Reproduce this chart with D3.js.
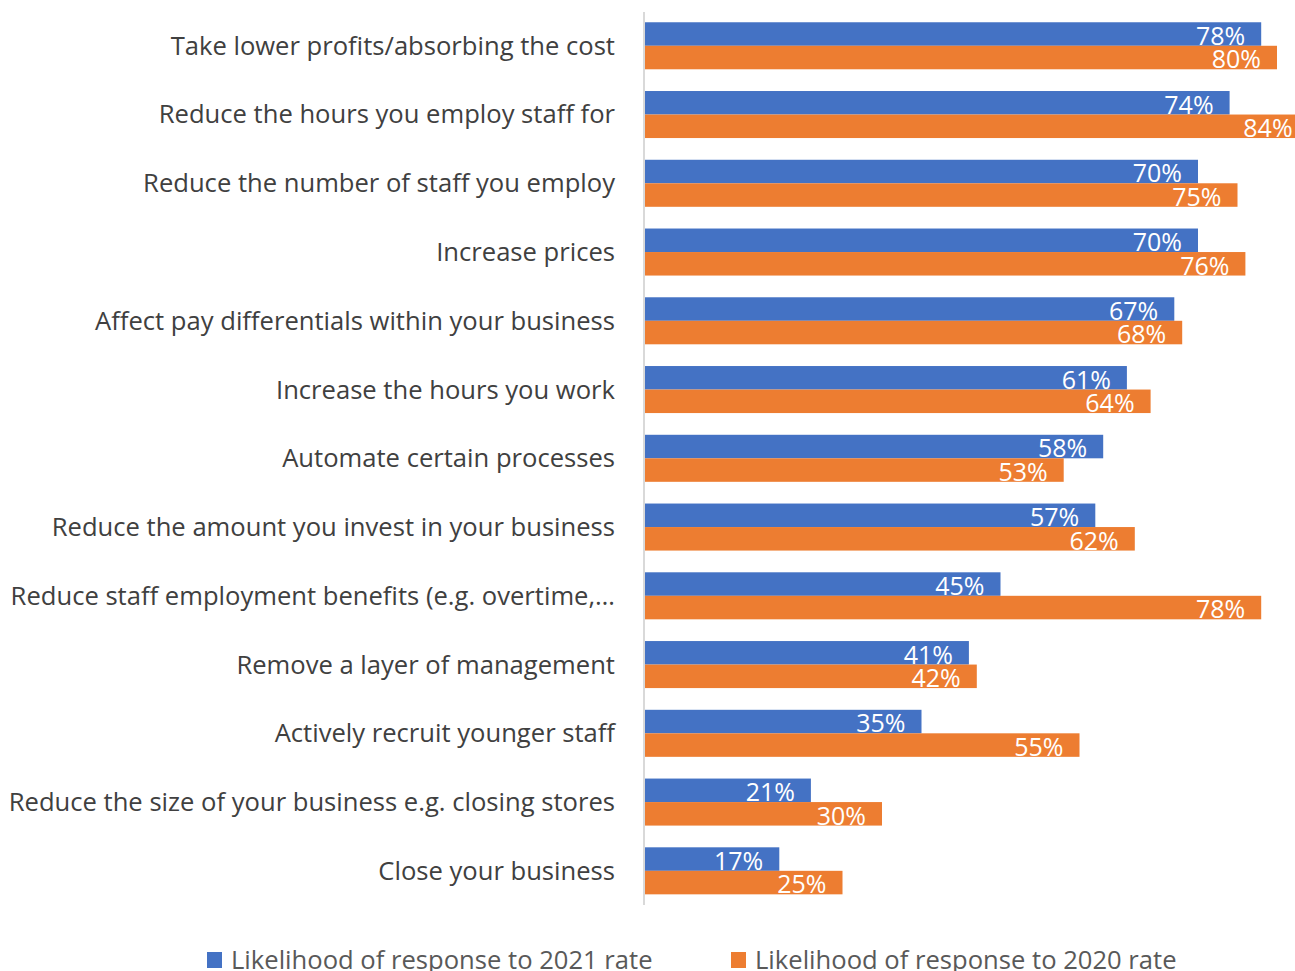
<!DOCTYPE html>
<html><head><meta charset="utf-8">
<script src="https://cdn.jsdelivr.net/npm/d3@7"></script>
<style>html,body{margin:0;padding:0;background:#fff;overflow:hidden}</style>
</head><body>
<svg id="c" width="1295" height="971"></svg>
<script>
const categories = [
  "Take lower profits/absorbing the cost",
  "Reduce the hours you employ staff for",
  "Reduce the number of staff you employ",
  "Increase prices",
  "Affect pay differentials within your business",
  "Increase the hours you work",
  "Automate certain processes",
  "Reduce the amount you invest in your business",
  "Reduce staff employment benefits (e.g. overtime,\u2026",
  "Remove a layer of management",
  "Actively recruit younger staff",
  "Reduce the size of your business e.g. closing stores",
  "Close your business"
];
const series2021 = [78,74,70,70,67,61,58,57,45,41,35,21,17];
const series2020 = [80,84,75,76,68,64,53,62,78,42,55,30,25];
const seriesNames = ["Likelihood of response to 2021 rate","Likelihood of response to 2020 rate"];
const colors = ["#4472C4","#ED7D31"];

const svg = d3.select("#c");
const font = "'Open Sans', sans-serif";
const x = d3.scaleLinear().domain([0,100]).range([645, 645+790]);
const y = d3.scaleBand().domain(categories).range([11.4, 905.2]).paddingInner(0.316).paddingOuter(0.158);
const sub = d3.scaleBand().domain([0,1]).range([0, y.bandwidth()]);

const data = categories.map((c,i)=>({c, vals:[series2021[i], series2020[i]]}));

// axis line
svg.append("line").attr("x1",644).attr("x2",644).attr("y1",12).attr("y2",905)
  .attr("stroke","#d9d9d9").attr("stroke-width",2);

const g = svg.selectAll("g.cat").data(data).join("g").attr("class","cat")
  .attr("transform", d=>`translate(0,${y(d.c)})`);

g.selectAll("rect").data(d=>d.vals.map((v,k)=>({v,k}))).join("rect")
  .attr("x", x(0)).attr("y", d=>sub(d.k)).attr("width", d=>x(d.v)-x(0))
  .attr("height", sub.bandwidth()).attr("fill", d=>colors[d.k]);

g.selectAll("text.val").data(d=>d.vals.map((v,k)=>({v,k}))).join("text").attr("class","val")
  .attr("x", d=>x(d.v)-16).attr("y", d=>sub(d.k)+sub.bandwidth()-1)
  .attr("text-anchor","end").attr("fill","#fff").attr("font-family",font).attr("font-size",25)
  .text(d=>d.v+"%");

svg.selectAll("text.cat").data(categories).join("text").attr("class","cat")
  .attr("x",615).attr("y", d=>y(d)+y.bandwidth()/2).attr("dy","0.35em")
  .attr("text-anchor","end").attr("fill","#404040").attr("font-family",font).attr("font-size",25.6)
  .text(d=>d);

// legend
const lg = [{x:207},{x:731}];
lg.forEach((l,k)=>{
  svg.append("rect").attr("x",l.x).attr("y",952).attr("width",15).attr("height",16).attr("fill",colors[k]);
  svg.append("text").attr("x",l.x+24).attr("y",969).attr("fill","#595959")
    .attr("font-family",font).attr("font-size",25.6).text(seriesNames[k]);
});
</script>
</body></html>
